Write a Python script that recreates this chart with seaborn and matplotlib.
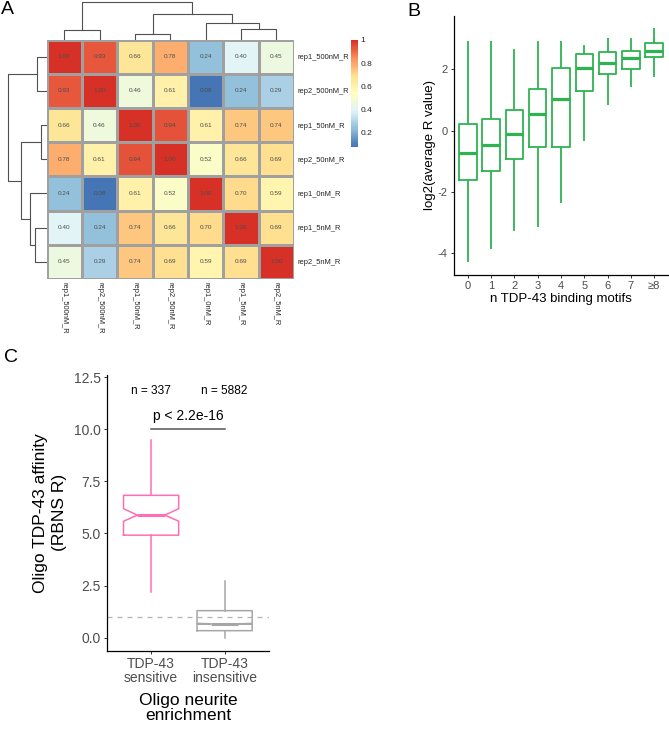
# Figura com tres paineis: correlacao RBNS (A), motivos TDP-43 (B), afinidade dos oligos (C)

import numpy as np
import pandas as pd
import seaborn as sns
import matplotlib
matplotlib.use("Agg")
import matplotlib.pyplot as plt
from matplotlib.colors import LinearSegmentedColormap

# Painel A: matriz de correlacao
samples = ["rep1_500nM_R", "rep2_500nM_R", "rep1_50nM_R", "rep2_50nM_R",
           "rep1_0nM_R", "rep1_5nM_R", "rep2_5nM_R"]
corr = np.array([
    [1.00, 0.93, 0.66, 0.78, 0.24, 0.40, 0.45],
    [0.93, 1.00, 0.46, 0.61, 0.08, 0.24, 0.29],
    [0.66, 0.46, 1.00, 0.94, 0.61, 0.74, 0.74],
    [0.78, 0.61, 0.94, 1.00, 0.52, 0.66, 0.69],
    [0.24, 0.08, 0.61, 0.52, 1.00, 0.70, 0.59],
    [0.40, 0.24, 0.74, 0.66, 0.70, 1.00, 0.69],
    [0.45, 0.29, 0.74, 0.69, 0.59, 0.69, 1.00],
])
cbar_ticks = [0.2, 0.4, 0.6, 0.8, 1.0]
cbar_labels = ["0.2", "0.4", "0.6", "0.8", "1"]

# Painel B: resumo dos boxplots (min, q1, mediana, q3, max)
motif_labels = ["0", "1", "2", "3", "4", "5", "6", "7", "\u22658"]
b_min = [-4.29, -3.87, -3.28, -3.15, -2.37, -0.33, 0.82, 1.41, 1.73]
b_q1 = [-1.60, -1.33, -0.93, -0.53, -0.53, 1.28, 1.84, 2.00, 2.38]
b_med = [-0.72, -0.48, -0.10, 0.54, 1.03, 2.03, 2.20, 2.35, 2.60]
b_q3 = [0.21, 0.39, 0.68, 1.37, 2.05, 2.49, 2.55, 2.59, 2.84]
b_max = [2.93, 2.93, 2.65, 2.93, 2.93, 2.79, 3.03, 3.03, 3.34]

# Painel C: resumo dos boxplots com entalhe
groups_c = ["TDP-43\nsensitive", "TDP-43\ninsensitive"]
n_labels = ["n = 337", "n = 5882"]
c_min = [2.18, 0.00]
c_q1 = [4.92, 0.34]
c_med = [5.88, 0.67]
c_q3 = [6.83, 1.30]
c_max = [9.46, 2.73]
c_cilo = [5.59, 0.65]
c_cihi = [6.19, 0.69]
c_colors = ["#FF6EB4", "#A6A6A6"]
p_text = "p < 2.2e-16"

W, H = 669, 730
plt.rcParams["font.family"] = ["Liberation Sans", "DejaVu Sans"]
plt.rcParams["axes.unicode_minus"] = False
fig = plt.figure(figsize=(W / 100, H / 100), dpi=100)


def px_axes(x0, y0, x1, y1):
    return fig.add_axes([x0 / W, 1 - y1 / H, (x1 - x0) / W, (y1 - y0) / H])


def complete_linkage(mat):
    # distancia euclidiana entre linhas + ligacao completa (padrao do pheatmap)
    d = np.sqrt(((mat[:, None, :] - mat[None, :, :]) ** 2).sum(-1))
    n = len(mat)
    clusters = {i: [i] for i in range(n)}
    pos = {i: float(i) for i in range(n)}
    height = {i: 0.0 for i in range(n)}
    merges = []
    nid = n
    while len(clusters) > 1:
        keys = list(clusters)
        best = None
        for i, a in enumerate(keys):
            for b in keys[i + 1:]:
                dist = d[np.ix_(clusters[a], clusters[b])].max()
                if best is None or dist < best[0]:
                    best = (dist, a, b)
        dist, a, b = best
        merges.append((pos[a], height[a], pos[b], height[b], dist))
        clusters[nid] = clusters.pop(a) + clusters.pop(b)
        pos[nid] = (pos[a] + pos[b]) / 2
        height[nid] = dist
        nid += 1
    return merges


# ---------------- Painel A ----------------
rdylbu = ["#D73027", "#FC8D59", "#FEE090", "#FFFFBF", "#E0F3F8", "#91BFDB", "#4575B4"]
cmap = LinearSegmentedColormap.from_list("pheat", rdylbu[::-1], N=100)
df_corr = pd.DataFrame(corr, index=samples, columns=samples)

axA = px_axes(46.5, 39.5, 294, 279)
cax = px_axes(351, 40, 357.7, 146.7)
sns.heatmap(df_corr, cmap=cmap, vmin=corr.min(), vmax=corr.max(), annot=True, fmt=".2f",
            annot_kws={"size": 4.6, "color": "#4D4D4D"}, linewidths=0.8,
            linecolor="#A0A0A0", cbar_ax=cax, cbar_kws={"ticks": cbar_ticks}, ax=axA)
axA.yaxis.tick_right()
axA.set_yticks(np.arange(len(samples)) + 0.5)
axA.set_yticklabels(samples, rotation=0, fontsize=5.4, color="#222222")
axA.set_xticks(np.arange(len(samples)) + 0.5)
axA.set_xticklabels(samples, rotation=270, fontsize=5.4, color="#222222")
axA.tick_params(length=0, pad=2.5)
axA.set_xlabel("")
axA.set_ylabel("")
cax.tick_params(length=0, labelsize=6, pad=2, labelcolor="#222222")
cax.set_yticklabels(cbar_labels)
for s in cax.spines.values():
    s.set_visible(False)

merges = complete_linkage(corr)
maxh = max(m[4] for m in merges)
axT = px_axes(46.5, 0.5, 294, 39.5)
axL = px_axes(6.4, 39.5, 46.5, 279)
for pa, ha, pb, hb, h in merges:
    axT.plot([pa + 0.5, pa + 0.5, pb + 0.5, pb + 0.5], [ha, h, h, hb], color="#505050", lw=0.8)
    axL.plot([ha, h, h, hb], [pa + 0.5, pa + 0.5, pb + 0.5, pb + 0.5], color="#505050", lw=0.8)
axT.set_xlim(0, len(samples))
axT.set_ylim(0, maxh * 1.05)
axL.set_ylim(len(samples), 0)
axL.set_xlim(maxh * 1.05, 0)
for a in (axT, axL):
    a.axis("off")

# ---------------- Painel B ----------------
green = "#2EB350"
rows = []
for lab, vals in zip(motif_labels, zip(b_min, b_q1, b_med, b_q3, b_max)):
    for v in vals:
        rows.append({"motifs": lab, "value": v})
df_b = pd.DataFrame(rows)

axB = px_axes(454, 16, 668, 275)
sns.boxplot(data=df_b, x="motifs", y="value", order=motif_labels, whis=(0, 100),
            width=0.75, fill=False, color=green, saturation=1, linewidth=1.3,
            showcaps=False, showfliers=False, medianprops={"linewidth": 2.3}, ax=axB)
axB.set_xlim(-0.6, 8.6)
axB.set_ylim(-4.7, 3.73)
axB.set_yticks([-4, -2, 0, 2])
axB.set_xlabel("n TDP-43 binding motifs", fontsize=9.5, labelpad=1)
axB.set_ylabel("log2(average R value)", fontsize=9.5, labelpad=1.5)

# ---------------- Painel C ----------------
axC = px_axes(107, 375, 268.7, 650.7)
axC.axhline(1.0, color="#B3B3B3", lw=0.9, ls=(0, (4, 4)), zorder=0)
for i in range(len(groups_c)):
    st = [dict(whislo=c_min[i], q1=c_q1[i], med=c_med[i], q3=c_q3[i], whishi=c_max[i],
               cilo=c_cilo[i], cihi=c_cihi[i], fliers=[])]
    col = c_colors[i]
    axC.bxp(st, positions=[i], widths=0.75, shownotches=True, showcaps=False,
            showfliers=False, manage_ticks=False,
            boxprops=dict(color=col, linewidth=1.1),
            whiskerprops=dict(color=col, linewidth=1.1),
            medianprops=dict(color=col, linewidth=2.2))
for i, t in enumerate(n_labels):
    axC.text(i, 11.85, t, ha="center", va="center", fontsize=8.6)
axC.plot([0, 1], [10, 10], color="#555555", lw=1.1)
axC.text(0.5, 10.3, p_text, ha="center", va="bottom", fontsize=10)
axC.set_xlim(-0.6, 1.6)
axC.set_ylim(-0.62, 12.6)
axC.set_xticks(range(len(groups_c)))
axC.set_xticklabels(groups_c, linespacing=1.0)
axC.set_yticks([0, 2.5, 5, 7.5, 10, 12.5])
axC.set_yticklabels(["0.0", "2.5", "5.0", "7.5", "10.0", "12.5"])
axC.set_xlabel("Oligo neurite\nenrichment", fontsize=12.5, linespacing=0.95, labelpad=6)
axC.set_ylabel("Oligo TDP-43 affinity\n(RBNS R)", fontsize=12.5, linespacing=1.3, labelpad=5)

for ax, ts in ((axB, 8), (axC, 10)):
    for s in ("top", "right"):
        ax.spines[s].set_visible(False)
    for s in ("left", "bottom"):
        ax.spines[s].set_linewidth(0.9)
    ax.tick_params(length=2.5, width=0.7, color="#333333", labelsize=ts, labelcolor="#4D4D4D", pad=2)

# letras dos paineis
fig.text(1 / W, 1 - 1 / H, "A", fontsize=14, va="top")
fig.text(407 / W, 1 - 3 / H, "B", fontsize=14, va="top")
fig.text(4 / W, 1 - 349 / H, "C", fontsize=14, va="top")

fig.savefig("out.png", dpi=100)
